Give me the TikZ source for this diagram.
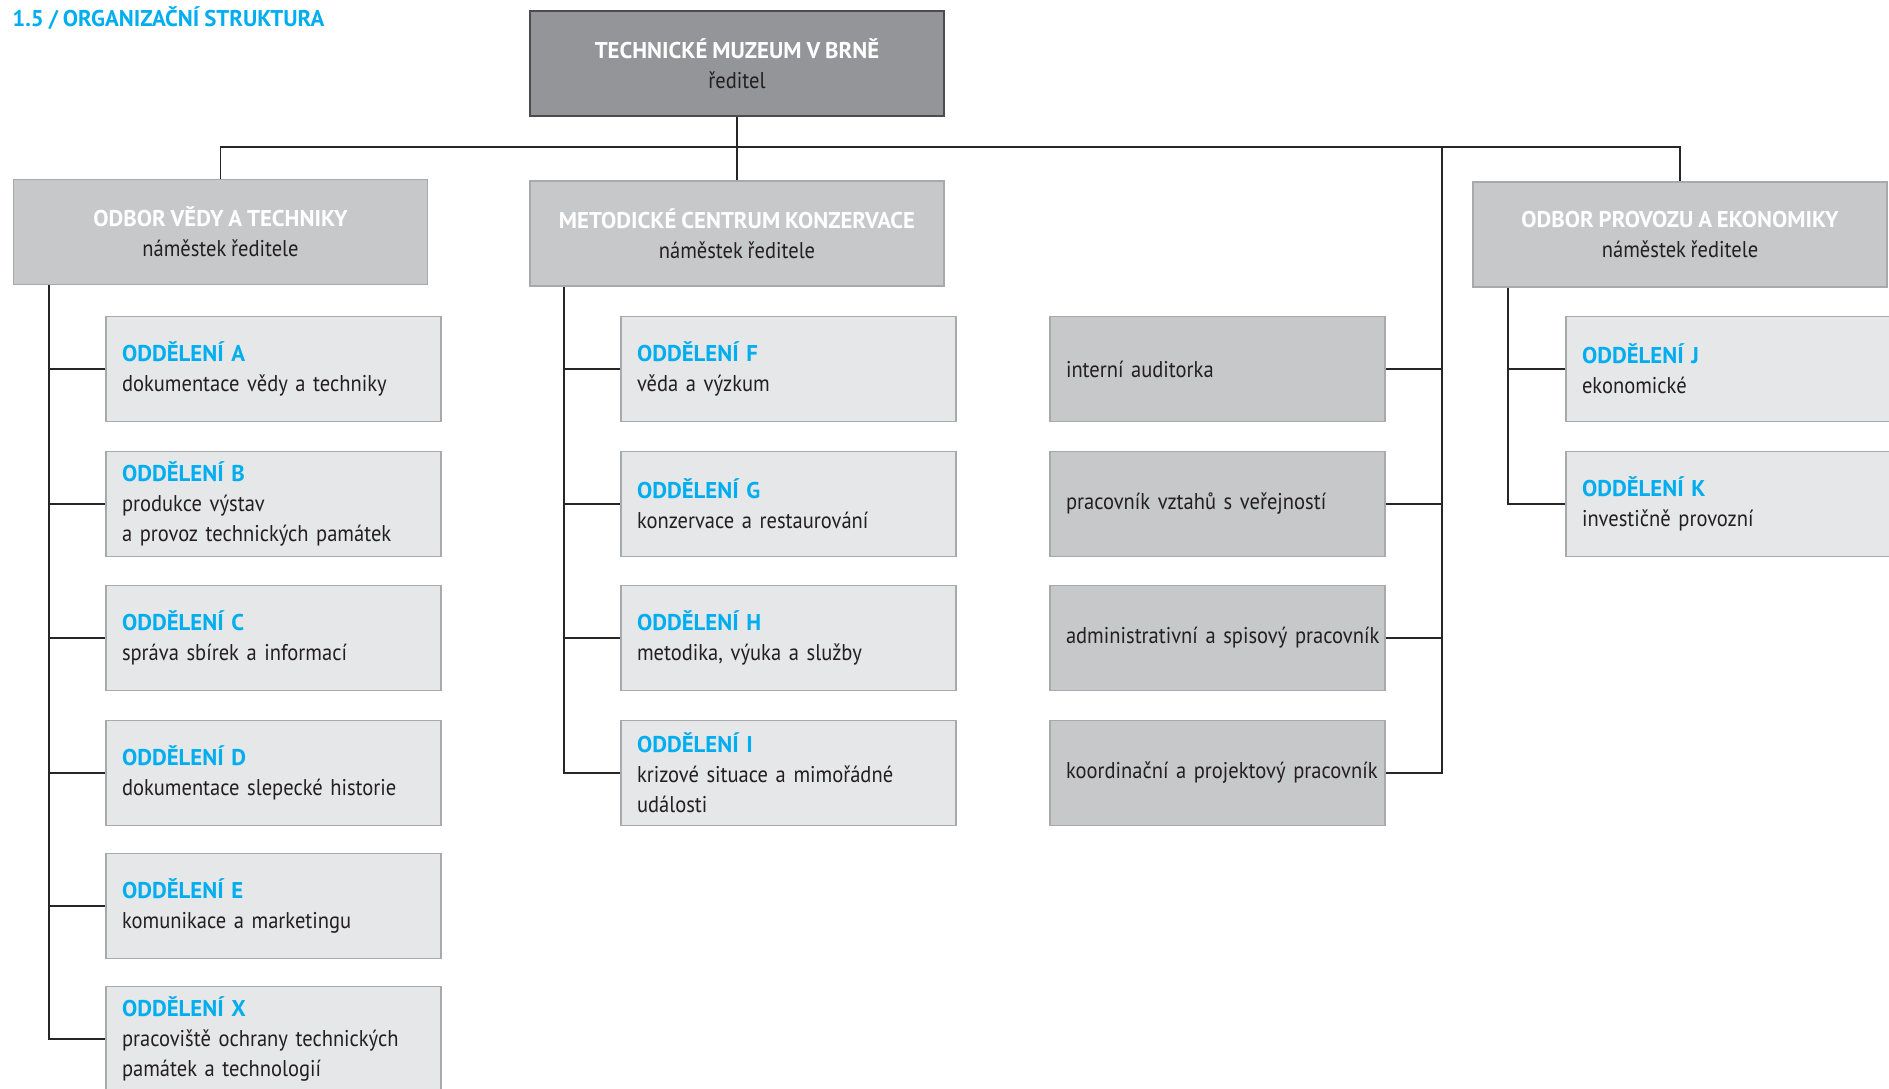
\documentclass[tikz,border=0pt]{standalone}
\usepackage{fontspec}
\setmainfont{PT Sans}[FakeStretch=0.9, WordSpace=0.85, BoldFeatures={FakeStretch=1}]
\definecolor{tmblue}{HTML}{00AEEF}
\definecolor{tmdark}{HTML}{939598}
\definecolor{tmmid}{HTML}{C7C8CA}
\definecolor{tmlight}{HTML}{E6E7E8}
\definecolor{tmedge}{HTML}{A7A9AC}
\definecolor{tmtext}{HTML}{231F20}

\begin{document}
\begin{tikzpicture}[x=0.5pt, y=-0.5pt,
    every node/.style={font=\fontsize{11.4}{15}\selectfont, text=tmtext},
    head/.style={draw=tmedge, line width=0.8pt, fill=tmmid, minimum width=207pt, minimum height=52.5pt, align=center, inner sep=0pt},
    dept/.style={draw=tmedge, line width=0.8pt, fill=tmlight, minimum width=167.5pt, minimum height=52.5pt, text width=151.5pt, align=left, inner xsep=8pt, inner ysep=0pt},
    staff/.style={dept, fill=tmmid},
    link/.style={draw=black!85, line width=0.9pt}]
    \useasboundingbox (0,0) rectangle (1889,1088);
    % title
    \node[anchor=west, inner sep=0pt, text=tmblue, font=\bfseries\fontsize{11.4}{13}\selectfont] (title) at (12,18) {1.5 / ORGANIZAČNÍ STRUKTURA};
    % director
    \node[head, fill=tmdark, draw=black!70] (dir) at (737,63.5) {\textcolor{white}{\bfseries TECHNICKÉ MUZEUM V BRNĚ}\\ ředitel};
    % deputies
    \node[head] (vt) at (220.5,232) {\textcolor{white}{\bfseries ODBOR VĚDY A TECHNIKY}\\ náměstek ředitele};
    \node[head] (mck) at (737,233.5) {\textcolor{white}{\bfseries METODICKÉ CENTRUM KONZERVACE}\\ náměstek ředitele};
    \node[head] (pe) at (1680,234.5) {\textcolor{white}{\bfseries ODBOR PROVOZU A EKONOMIKY}\\ náměstek ředitele};
    % column 1
    \node[dept] (oa) at (273.5,369) {\textcolor{tmblue}{\bfseries ODDĚLENÍ A}\\ dokumentace vědy a techniky};
    \node[dept] (ob) at (273.5,504) {\textcolor{tmblue}{\bfseries ODDĚLENÍ B}\\ produkce výstav\\ a provoz technických památek};
    \node[dept] (oc) at (273.5,638) {\textcolor{tmblue}{\bfseries ODDĚLENÍ C}\\ správa sbírek a informací};
    \node[dept] (od) at (273.5,773) {\textcolor{tmblue}{\bfseries ODDĚLENÍ D}\\ dokumentace slepecké historie};
    \node[dept] (oe) at (273.5,906) {\textcolor{tmblue}{\bfseries ODDĚLENÍ E}\\ komunikace a marketingu};
    \node[dept] (ox) at (273.5,1039) {\textcolor{tmblue}{\bfseries ODDĚLENÍ X}\\ pracoviště ochrany technických\\ památek a technologií};
    % column 2
    \node[dept] (of) at (788.5,369) {\textcolor{tmblue}{\bfseries ODDĚLENÍ F}\\ věda a výzkum};
    \node[dept] (og) at (788.5,504) {\textcolor{tmblue}{\bfseries ODDĚLENÍ G}\\ konzervace a restaurování};
    \node[dept] (oh) at (788.5,638) {\textcolor{tmblue}{\bfseries ODDĚLENÍ H}\\ metodika, výuka a služby};
    \node[dept] (oi) at (788.5,773) {\textcolor{tmblue}{\bfseries ODDĚLENÍ I}\\ krizové situace a mimořádné\\ události};
    % staff
    \node[staff] (s1) at (1217.5,369) {interní auditorka};
    \node[staff] (s2) at (1217.5,504) {pracovník vztahů s veřejností};
    \node[staff] (s3) at (1217.5,638) {\mbox{administrativní a spisový pracovník}};
    \node[staff] (s4) at (1217.5,773) {\mbox{koordinační a projektový pracovník}};
    % column 4
    \node[dept] (oj) at (1733.5,369) {\textcolor{tmblue}{\bfseries ODDĚLENÍ J}\\ ekonomické};
    \node[dept] (ok) at (1733.5,504) {\textcolor{tmblue}{\bfseries ODDĚLENÍ K}\\ investičně provozní};
    % bus
    \coordinate (bus) at (737,147);
    \coordinate (sbus) at (1442,147);
    \draw[link] (dir) -- (mck);
    \draw[link] (vt.north) |- (bus) -| (pe.north);
    \draw[link] (sbus) |- (s4.east);
    \draw[link] (sbus |- s1.east) -- (s1.east);
    \draw[link] (sbus |- s2.east) -- (s2.east);
    \draw[link] (sbus |- s3.east) -- (s3.east);
    % spine 1
    \coordinate (sp1) at ([xshift=18pt]vt.south west);
    \draw[link] (sp1) |- (ox.west);
    \draw[link] (sp1 |- oa.west) -- (oa.west);
    \draw[link] (sp1 |- ob.west) -- (ob.west);
    \draw[link] (sp1 |- oc.west) -- (oc.west);
    \draw[link] (sp1 |- od.west) -- (od.west);
    \draw[link] (sp1 |- oe.west) -- (oe.west);
    % spine 2
    \coordinate (sp2) at ([xshift=17.5pt]mck.south west);
    \draw[link] (sp2) |- (oi.west);
    \draw[link] (sp2 |- of.west) -- (of.west);
    \draw[link] (sp2 |- og.west) -- (og.west);
    \draw[link] (sp2 |- oh.west) -- (oh.west);
    % spine 4
    \coordinate (sp4) at ([xshift=18pt]pe.south west);
    \draw[link] (sp4) |- (ok.west);
    \draw[link] (sp4 |- oj.west) -- (oj.west);
\end{tikzpicture}
\end{document}
